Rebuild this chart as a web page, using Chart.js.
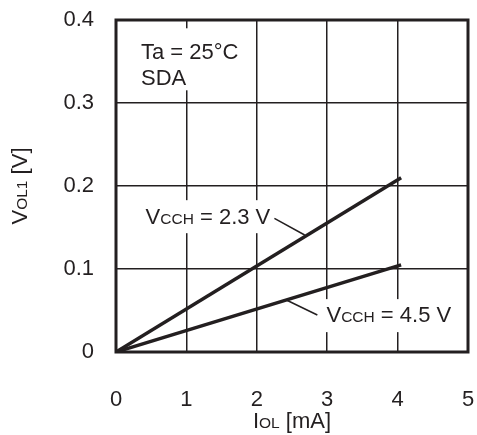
<!DOCTYPE html>
<html>
<head>
<meta charset="utf-8">
<script src="https://cdn.jsdelivr.net/npm/chart.js@4.4.1/dist/chart.umd.min.js"></script>
<style>
  html, body { margin: 0; padding: 0; background: #fff; }
  #wrap { width: 477px; height: 435px; }
</style>
</head>
<body>
<div id="wrap"><canvas id="myChart" width="477" height="435"></canvas></div>
<script>
// IOL [mA] vs VOL1 [V], Ta = 25°C, SDA
const iol = [0, 4.05];
const vcch23 = [0, 0.21];
const vcch45 = [0, 0.105];
const xTicks = [0, 1, 2, 3, 4, 5];
const yTicks = [0, 0.1, 0.2, 0.3, 0.4];

const ink = "#231f20";
const FONT = "'Liberation Sans', Arial, sans-serif";
const BIG = 22;
const SMALL = 15.5;

function toPoints(ys) {
  return iol.map((x, i) => ({ x: x, y: ys[i] }));
}

// text made of parts, small parts are sub-size (same baseline)
function richWidth(ctx, parts) {
  var w = 0;
  parts.forEach((p) => {
    ctx.font = p[1] + "px " + FONT;
    w += ctx.measureText(p[0]).width;
  });
  return w;
}

function drawRich(ctx, parts, x, y) {
  var cx = x;
  parts.forEach((p) => {
    ctx.font = p[1] + "px " + FONT;
    ctx.fillText(p[0], cx, y);
    cx += ctx.measureText(p[0]).width;
  });
}

const labelsPlugin = {
  id: "labels",
  beforeDatasetsDraw(chart) {
    const ctx = chart.ctx;
    const xs = chart.scales.x;
    const ys = chart.scales.y;
    const px = (v) => xs.getPixelForValue(v);
    const py = (v) => ys.getPixelForValue(v);

    ctx.save();
    ctx.textBaseline = "alphabetic";
    ctx.textAlign = "left";

    // Ta label
    ctx.fillStyle = "#fff";
    ctx.fillRect(px(0.3), py(0.39), 114, 62);
    ctx.fillStyle = ink;
    drawRich(ctx, [["Ta = 25°C", BIG]], px(0.355), py(0.353));
    drawRich(ctx, [["SDA", BIG]], px(0.355), py(0.322));

    const lab23 = [["V", BIG], ["CCH", SMALL], [" = 2.3 V", BIG]];
    const lab45 = [["V", BIG], ["CCH", SMALL], [" = 4.5 V", BIG]];

    var w = richWidth(ctx, lab23);
    ctx.fillStyle = "#fff";
    ctx.fillRect(px(0.42) - 4, py(0.154) - 24, w + 8, 33);
    ctx.fillStyle = ink;
    drawRich(ctx, lab23, px(0.42), py(0.154));

    w = richWidth(ctx, lab45);
    ctx.fillStyle = "#fff";
    ctx.fillRect(px(2.99) - 4, py(0.036) - 23, w + 8, 33);
    ctx.fillStyle = ink;
    drawRich(ctx, lab45, px(2.99), py(0.036));

    // leader lines
    ctx.strokeStyle = ink;
    ctx.lineWidth = 1.5;
    ctx.beginPath();
    ctx.moveTo(px(2.25), py(0.161));
    ctx.lineTo(px(2.68), py(0.141));
    ctx.moveTo(px(2.86), py(0.0446));
    ctx.lineTo(px(2.42), py(0.0627));
    ctx.stroke();

    ctx.restore();
  },
  afterDraw(chart) {
    const ctx = chart.ctx;
    const a = chart.chartArea;
    ctx.save();
    ctx.strokeStyle = ink;
    ctx.lineWidth = 3;
    ctx.strokeRect(a.left, a.top, a.right - a.left, a.bottom - a.top);

    ctx.fillStyle = ink;
    ctx.textBaseline = "alphabetic";
    // x title
    const xt = [["I", BIG], ["OL", SMALL], [" [mA]", BIG]];
    var w = richWidth(ctx, xt);
    drawRich(ctx, xt, (a.left + a.right) / 2 - w / 2, 428);
    // y title
    const yt = [["V", BIG], ["OL1", SMALL], [" [V]", BIG]];
    w = richWidth(ctx, yt);
    ctx.translate(27, (a.top + a.bottom) / 2);
    ctx.rotate(-Math.PI / 2);
    drawRich(ctx, yt, -w / 2, 0);
    ctx.restore();
  },
};

const config = {
  type: "line",
  data: {
    datasets: [
      {
        label: "VCCH = 2.3 V",
        data: toPoints(vcch23),
        borderColor: ink,
        borderWidth: 3.5,
        pointRadius: 0,
        fill: false,
      },
      {
        label: "VCCH = 4.5 V",
        data: toPoints(vcch45),
        borderColor: ink,
        borderWidth: 3.5,
        pointRadius: 0,
        fill: false,
      },
    ],
  },
  options: {
    responsive: false,
    animation: false,
    layout: { padding: { left: 0, right: 9, top: 20, bottom: 0 } },
    plugins: { legend: { display: false }, tooltip: { enabled: false } },
    scales: {
      x: {
        type: "linear",
        min: 0,
        max: 5,
        afterBuildTicks: (s) => { s.ticks = xTicks.map((v) => ({ value: v })); },
        afterFit: (s) => {
          s.height = 83;
          s.paddingLeft = 0;
          s.paddingRight = 0;
        },
        grid: { color: ink, lineWidth: 1.5, drawTicks: false },
        border: { display: false },
        ticks: { color: ink, font: { family: FONT, size: BIG }, padding: 35, maxRotation: 0 },
      },
      y: {
        type: "linear",
        min: 0,
        max: 0.4,
        afterBuildTicks: (s) => { s.ticks = yTicks.map((v) => ({ value: v })); },
        afterFit: (s) => {
          s.width = 116;
          s.paddingTop = 0;
          s.paddingBottom = 0;
        },
        grid: { color: ink, lineWidth: 1.5, drawTicks: false },
        border: { display: false },
        ticks: { color: ink, font: { family: FONT, size: BIG }, padding: 22 },
      },
    },
  },
  plugins: [labelsPlugin],
};

new Chart(document.getElementById("myChart"), config);
</script>
</body>
</html>
